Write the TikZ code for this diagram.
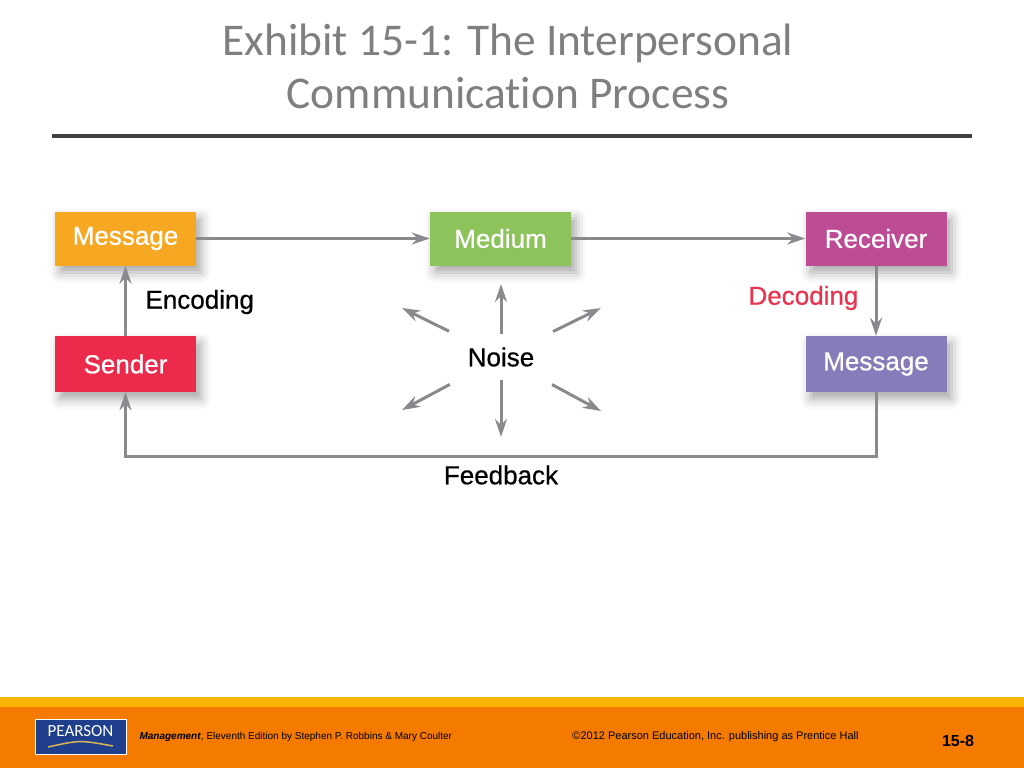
\documentclass[tikz,border=0pt]{standalone}
\usepackage{fontspec}
\setmainfont{Carlito}[Ligatures=NoCommon]
\newfontfamily\boxfont{Liberation Sans}[FakeBold=0.6]
\newfontfamily\footfont{Liberation Sans}
\usetikzlibrary{arrows.meta,shadows.blur}

\definecolor{titlegray}{HTML}{7F7F7F}
\definecolor{rulegray}{HTML}{404040}
\definecolor{arrowgray}{HTML}{8A8A8E}
\definecolor{msgorange}{HTML}{F7A823}
\definecolor{medgreen}{HTML}{8CC35A}
\definecolor{recmagenta}{HTML}{BD4C94}
\definecolor{sendred}{HTML}{EC2A4B}
\definecolor{msgpurple}{HTML}{877CBA}
\definecolor{decred}{HTML}{E8344E}
\definecolor{footyellow}{HTML}{F8B400}
\definecolor{footorange}{HTML}{F47B00}
\definecolor{pearsonblue}{HTML}{1F3F8C}
\definecolor{pearsongold}{HTML}{D9B45A}

\begin{document}
\begin{tikzpicture}[x=1pt,y=-1pt]
    \useasboundingbox (0,0) rectangle (1024,768);

    \node[text=titlegray,font=\fontsize{45.4}{52}\selectfont,anchor=base] (title1) at (508,56) {Exhibit 15-1: The Interpersonal};
    \node[text=titlegray,font=\fontsize{45.4}{52}\selectfont,anchor=base] (title2) at (508,108) {Communication Process};
    \draw[rulegray,line width=4pt] (52,136) -- (972,136);

    \begin{scope}[every node/.style={rectangle,text=white,minimum width=141pt,minimum height=54pt,inner sep=0pt,
        font=\boxfont\fontsize{26}{30}\selectfont,
        blur shadow={shadow xshift=5pt,shadow yshift=-7pt,shadow blur radius=10pt,shadow opacity=35}}]
      \node[fill=msgorange] (msg) at (125.5,238.5) {Message};
      \node[fill=medgreen] (medium) at (500.5,238.5) {Medium};
      \node[fill=recmagenta] (receiver) at (876,238.5) {Receiver};
      \node[fill=sendred,minimum height=56pt] (sender) at (125.5,364) {Sender};
      \node[fill=msgpurple,minimum height=56pt] (msg2) at (876,364) {Message};
    \end{scope}

    \begin{scope}[every node/.style={font=\boxfont\fontsize{26}{30}\selectfont}]
      \node[anchor=west] (encoding) at (142,302) {Encoding};
      \node[anchor=west,text=decred] (decoding) at (745,298) {Decoding};
      \node (noise) at (501,357) {Noise};
      \node (feedback) at (501,475) {Feedback};
    \end{scope}

    \coordinate (noiseN) at (501,284);
    \coordinate (noiseS) at (501,437);
    \coordinate (noiseNW) at (402,308);
    \coordinate (noiseNE) at (601,308);
    \coordinate (noiseSW) at (402,410);
    \coordinate (noiseSE) at (601,411);

    \begin{scope}[>={Stealth[length=18pt,width=12pt]},
        every edge/.style={draw=arrowgray,line width=3pt}]
      \path [->] (msg) edge (medium)
                 (medium) edge (receiver)
                 (sender) edge (msg)
                 (receiver) edge (msg2);
      \draw [->,arrowgray,line width=3pt] (msg2.south) -- ++(0,64) -| (sender.south);
      \path [->,shorten <=23pt] (noise.center) edge (noiseN) (noise.center) edge (noiseS);
      \path [->,shorten <=58pt] (noise.center) edge (noiseNW) (noise.center) edge (noiseNE)
                                (noise.center) edge (noiseSW) (noise.center) edge (noiseSE);
    \end{scope}

    % footer
    \fill[footyellow] (0,697) rectangle (1024,707);
    \fill[footorange] (0,707) rectangle (1024,768);
    \node[draw=white,fill=pearsonblue,minimum width=91pt,minimum height=35pt,inner sep=0pt] (logo) at (80.5,736.5) {};
    \node[text=white,font=\fontsize{17}{17}\selectfont] (logotext) at (80.5,731) {PEARSON};
    \draw[pearsongold,line width=1.5pt] (48,747) .. controls (80,740) .. (113,746);
    \node[anchor=west,font=\footfont\fontsize{10}{11}\selectfont] (book) at (136,737)
      {\textbf{\textit{Management}}, Eleventh Edition by Stephen P. Robbins \& Mary Coulter};
    \node[font=\footfont\fontsize{11}{12}\selectfont] (copy) at (715.5,737)
      {©2012 Pearson Education, Inc. publishing as Prentice Hall};
    \node[font=\footfont\bfseries\fontsize{16}{18}\selectfont] (page) at (958,741) {15-8};
\end{tikzpicture}
\end{document}
